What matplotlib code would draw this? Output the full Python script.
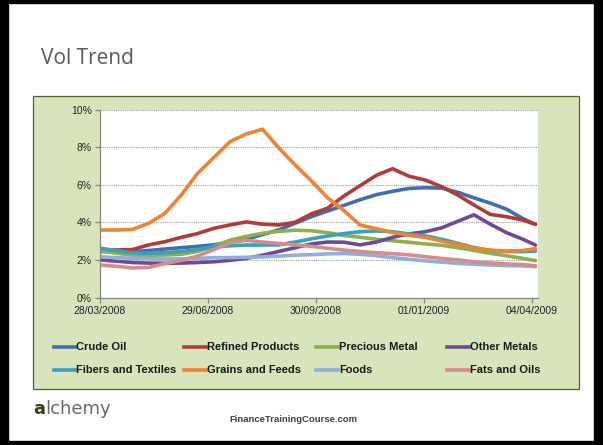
import pandas as pd
import matplotlib.pyplot as plt
import matplotlib.dates as mdates
from matplotlib.patches import Rectangle
from matplotlib.lines import Line2D
from matplotlib.ticker import PercentFormatter

# fortnightly volatility readings, in percent
dates = ["2008-03-28", "2008-04-11", "2008-04-25", "2008-05-09", "2008-05-23",
         "2008-06-06", "2008-06-20", "2008-07-04", "2008-07-18", "2008-08-01",
         "2008-08-15", "2008-08-29", "2008-09-12", "2008-09-26", "2008-10-10",
         "2008-10-24", "2008-11-07", "2008-11-21", "2008-12-05", "2008-12-19",
         "2009-01-02", "2009-01-16", "2009-01-30", "2009-02-13", "2009-02-27",
         "2009-03-13", "2009-03-27", "2009-04-07"]

crude_oil = [2.44, 2.44, 2.44, 2.50, 2.58, 2.65, 2.72, 2.80, 2.95, 3.10,
             3.35, 3.60, 3.95, 4.30, 4.60, 4.90, 5.20, 5.47, 5.65, 5.80,
             5.84, 5.82, 5.60, 5.30, 5.02, 4.70, 4.20, 3.89]
refined_products = [2.53, 2.53, 2.55, 2.80, 2.97, 3.20, 3.40, 3.68, 3.86, 4.02,
                    3.90, 3.86, 4.00, 4.45, 4.75, 5.40, 5.95, 6.50, 6.85, 6.45,
                    6.25, 5.90, 5.45, 4.92, 4.42, 4.30, 4.12, 3.89]
precious_metal = [2.49, 2.35, 2.26, 2.25, 2.26, 2.30, 2.45, 2.72, 3.05, 3.25,
                  3.42, 3.52, 3.58, 3.55, 3.45, 3.30, 3.20, 3.10, 3.02, 2.94,
                  2.85, 2.78, 2.65, 2.50, 2.35, 2.22, 2.08, 1.96]
other_metals = [2.00, 1.93, 1.86, 1.83, 1.82, 1.83, 1.86, 1.90, 1.98, 2.08,
                2.25, 2.45, 2.65, 2.85, 2.95, 2.94, 2.80, 2.95, 3.20, 3.38,
                3.50, 3.70, 4.05, 4.40, 3.90, 3.45, 3.10, 2.79]
fibers_textiles = [2.62, 2.50, 2.37, 2.36, 2.38, 2.45, 2.55, 2.70, 2.75, 2.79,
                   2.79, 2.80, 2.95, 3.12, 3.27, 3.40, 3.50, 3.54, 3.50, 3.38,
                   3.28, 3.10, 2.88, 2.66, 2.50, 2.45, 2.44, 2.47]
grains_feeds = [3.59, 3.59, 3.62, 3.95, 4.48, 5.45, 6.60, 7.45, 8.29, 8.70,
                8.95, 7.95, 7.05, 6.20, 5.30, 4.62, 3.85, 3.66, 3.45, 3.31,
                3.20, 3.00, 2.82, 2.62, 2.52, 2.47, 2.50, 2.60]
foods = [2.17, 2.12, 2.09, 2.07, 2.05, 2.06, 2.08, 2.12, 2.12, 2.14,
         2.16, 2.20, 2.25, 2.28, 2.32, 2.34, 2.30, 2.22, 2.12, 2.03,
         1.95, 1.88, 1.82, 1.77, 1.73, 1.70, 1.68, 1.64]
fats_oils = [1.73, 1.66, 1.57, 1.60, 1.80, 1.98, 2.20, 2.55, 2.90, 3.05,
             2.95, 2.88, 2.80, 2.72, 2.62, 2.52, 2.45, 2.38, 2.33, 2.27,
             2.17, 2.08, 2.00, 1.90, 1.84, 1.79, 1.75, 1.69]

names = ["Crude Oil", "Refined Products", "Precious Metal", "Other Metals",
         "Fibers and Textiles", "Grains and Feeds", "Foods", "Fats and Oils"]
series = [crude_oil, refined_products, precious_metal, other_metals,
          fibers_textiles, grains_feeds, foods, fats_oils]
colors = ["#3F6FB0", "#B23B38", "#8DB04A", "#6E4C93",
          "#3AA0BC", "#EE8433", "#8FAEDA", "#D68C8B"]

tick_dates = ["28/03/2008", "29/06/2008", "30/09/2008", "01/01/2009", "04/04/2009"]

W, H = 603, 445


def fx(x):
    return x / W


def fy(y):
    return 1 - y / H


fig = plt.figure(figsize=(W / 100, H / 100), dpi=100)
fig.patch.set_facecolor("white")

# slide frame
for x, y, w, h in [(0, 0, 8, H), (W - 9, 0, 9, H), (0, 0, W, 3), (0, H - 4, W, 4)]:
    fig.add_artist(Rectangle((fx(x), fy(y + h)), w / W, h / H,
                             transform=fig.transFigure, color="black", zorder=0))

# green chart panel
fig.add_artist(Rectangle((fx(32.5), fy(389)), (579 - 32.5) / W, (389 - 96) / H,
                         transform=fig.transFigure, facecolor="#D8E4BC",
                         edgecolor="#4F6228", linewidth=0.9, zorder=0))

fig.text(fx(41), fy(64.5), "Vol Trend", fontsize=15, color="#595959",
         family="Open Sans", va="baseline")

ax = fig.add_axes([fx(100), fy(297.5), (537.5 - 100) / W, (297.5 - 109.5) / H])
ax.set_facecolor("white")

x = pd.to_datetime(dates)
for name, vals, c in zip(names, series, colors):
    ax.plot(x, vals, color=c, linewidth=2.6, label=name, solid_capstyle="round")

start = pd.Timestamp("2008-03-28")
ax.set_xlim(start, start + pd.Timedelta(days=376.7))
ax.set_ylim(0, 10)
ax.set_yticks([0, 2, 4, 6, 8, 10])
ax.yaxis.set_major_formatter(PercentFormatter(100, decimals=0))
ax.set_xticks(pd.to_datetime(tick_dates, dayfirst=True))
ax.xaxis.set_major_formatter(mdates.DateFormatter("%d/%m/%Y"))

ax.grid(axis="y", linestyle=(0, (1, 1)), color="#9A9A9A", linewidth=0.8)
ax.set_axisbelow(True)
for side in ["top", "right"]:
    ax.spines[side].set_visible(False)
for side in ["left", "bottom"]:
    ax.spines[side].set_color("#868686")
    ax.spines[side].set_linewidth(0.9)
ax.tick_params(length=3.5, width=0.9, color="#868686", labelsize=7.5,
               labelcolor="#222222", pad=2.5)
for lab in ax.get_xticklabels() + ax.get_yticklabels():
    lab.set_family("Liberation Sans")

# legend, four columns by two rows
col_x = [53.5, 184, 316, 447]
row_y = [347, 370]
for i, (name, c) in enumerate(zip(names, colors)):
    lx = col_x[i % 4]
    ly = row_y[i // 4]
    fig.add_artist(Line2D([fx(lx), fx(lx + 22)], [fy(ly), fy(ly)],
                          transform=fig.transFigure, color=c, linewidth=2.6))
    fig.text(fx(lx + 23), fy(ly), name, fontsize=8, weight="bold",
             family="Liberation Sans", color="#1A1A1A", va="center")

# footer: logo word and site name
fig.text(fx(33), fy(414), "a", fontsize=13, weight="bold", color="#3E3E1E",
         family="DejaVu Sans", va="baseline")
fig.text(fx(45), fy(414), "lchemy", fontsize=13, color="#6A6A6A",
         family="DejaVu Sans", va="baseline")
fig.text(fx(293), fy(419), "FinanceTrainingCourse.com", fontsize=6.8,
         weight="bold", family="Liberation Sans", color="#404040",
         ha="center", va="center")

fig.savefig("out.png", dpi=100)
